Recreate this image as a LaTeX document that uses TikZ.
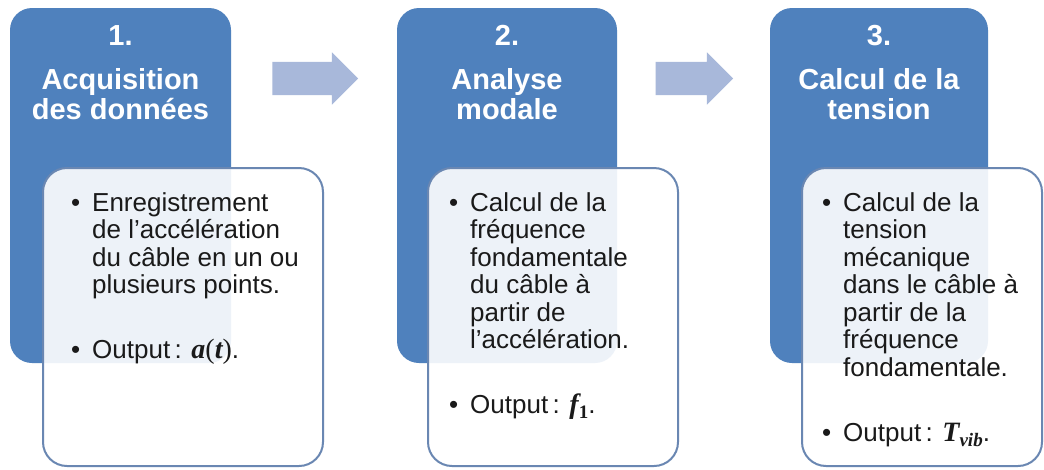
\documentclass[tikz,border=0pt]{standalone}
\usepackage{fontspec}
\setmainfont{Liberation Sans}
\newfontfamily\formulafont{Liberation Serif}
\usetikzlibrary{shapes.arrows}

\definecolor{stageblue}{HTML}{4F81BD}
\definecolor{panelline}{HTML}{6A87B2}
\definecolor{flowarrow}{HTML}{A8B8DA}
\definecolor{bodytext}{HTML}{1A1A1A}

\newcommand{\tightlines}{\lineskiplimit=-100pt\relax}
\tikzset{
  stage/.style={fill=stageblue, draw=none, rounded corners=22pt, inner sep=0pt},
  panel/.style={fill=white, fill opacity=0.9, draw=panelline, line width=2pt,
                rounded corners=24pt, inner sep=0pt},
  heading/.style={text=white, font=\bfseries\fontsize{29}{30}\selectfont,
                  align=center, anchor=north, inner sep=0pt},
  details/.style={text=bodytext, font=\fontsize{26}{27.5}\selectfont,
                  execute at begin node=\tightlines,
                  align=left, anchor=north west, inner sep=0pt},
  flow/.style={single arrow, fill=flowarrow, draw=none, inner xsep=0pt,
               inner ysep=16.5pt, text height=0pt, text depth=0pt,
               single arrow head extend=9.5pt, single arrow tip angle=90,
               anchor=tip},
}
% bullet hanging left of the text column
\newcommand{\itm}{\llap{•\hspace{12pt}}}
% formula pieces: bold italic variables, upright brackets, lowered subscripts
\newcommand{\var}[1]{{\fontsize{28}{28}\selectfont\formulafont\bfseries\itshape #1}}
\newcommand{\brk}[1]{{\fontsize{28}{28}\selectfont\formulafont #1}}
\newcommand{\fsub}[1]{\raisebox{-5pt}{\fontsize{19}{19}\selectfont\formulafont\bfseries #1}}

\begin{document}
\begin{tikzpicture}[x=1pt,y=-1pt]
  \useasboundingbox[fill=white] (0,0) rectangle (1044,469);

  % stage headers
  \node[stage, minimum width=221pt, minimum height=355pt] (s1) at (120.5,185.5) {};
  \node[stage, minimum width=220pt, minimum height=355pt] (s2) at (507,185.5) {};
  \node[stage, minimum width=218pt, minimum height=355pt] (s3) at (879,185.5) {};

  % detail panels
  \node[panel, minimum width=280pt, minimum height=298pt] (p1) at (183,317) {};
  \node[panel, minimum width=250pt, minimum height=298pt] (p2) at (553,317) {};
  \node[panel, minimum width=240pt, minimum height=298pt] (p3) at (922,317) {};

  % flow arrows between stages, placed by their tips
  \node[flow, minimum height=85.6pt] (a1) at (358.3,78.5) {};
  \node[flow, minimum height=77.3pt] (a2) at (733.3,78.5) {};

  % stage titles
  \node[heading] (h1) at (120.5,24) {\strut 1.\\[13pt]Acquisition\\des données};
  \node[heading] (h2) at (507,24) {\strut 2.\\[13pt]Analyse\\modale};
  \node[heading] (h3) at (879,24) {\strut 3.\\[13pt]Calcul de la\\tension};

  % panel contents
  \node[details] (d1) at (92,191.75) {\strut\itm Enregistrement\\de l’accélération\\du câble en un ou\\plusieurs points.\\[37.5pt]\itm Output\,: \var{a}\brk{(}\var{t}\brk{)}.};
  \node[details] (d2) at (470,191.75) {\strut\itm Calcul de la\\fréquence\\fondamentale\\du câble à\\partir de\\l’accélération.\\[37.5pt]\itm Output\,: \var{f}\fsub{1}.};
  \node[details] (d3) at (843,191.75) {\strut\itm Calcul de la\\tension\\mécanique\\dans le câble à\\partir de la\\fréquence\\fondamentale.\\[37.5pt]\itm Output\,: \var{T}\fsub{\itshape vib}.};
\end{tikzpicture}
\end{document}
